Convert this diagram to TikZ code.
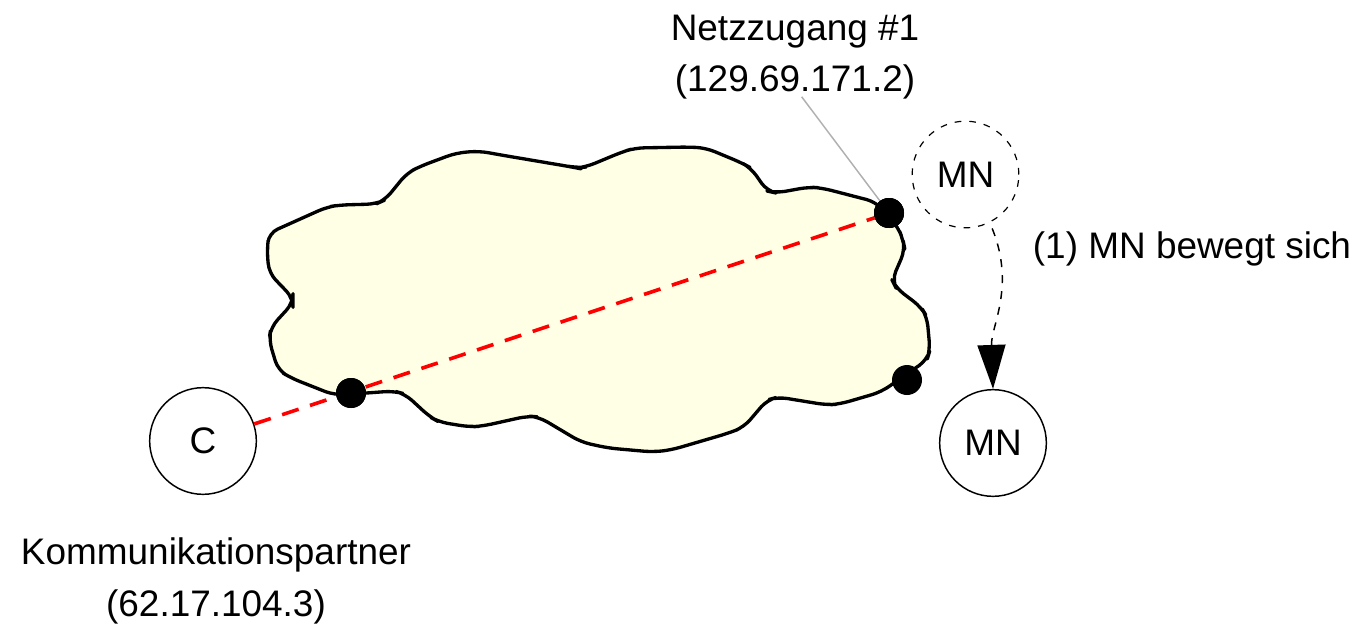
\documentclass[tikz,border=0pt]{standalone}
\usepackage{fontspec}
\setmainfont{Liberation Sans}
\usetikzlibrary{arrows.meta}
\definecolor{cloudfill}{RGB}{255,255,230}
\definecolor{leadgrey}{RGB}{176,176,176}
\begin{document}
\begin{tikzpicture}[x=0.75pt,y=-0.75pt,
  txt/.style={font=\fontsize{27.7}{38.5}\selectfont, inner sep=0pt, align=center},
  host/.style={circle, draw, line width=1.1pt, minimum size=80pt, inner sep=0pt, font=\fontsize{27.7}{33}\selectfont},
  ghost/.style={host, dashed, dash pattern=on 5pt off 6pt, line width=0.9pt},
  router/.style={circle, fill=black, minimum size=22.5pt, inner sep=0pt},
  netline/.style={line width=2.5pt, line join=round},
  route/.style={red, line width=2.7pt, dash pattern=on 13pt off 9pt},
  move/.style={line width=1.1pt, dash pattern=on 6pt off 6pt, -{Triangle[length=33pt,width=21pt]}},
  lead/.style={leadgrey, line width=1.1pt}]
\useasboundingbox (0,0) rectangle (1362,624);

% network cloud
\draw[netline, fill=cloudfill, rounded corners=7pt]
  (269,233) -- (267,250) -- (269,273) -- (293,298) -- (293,303) -- (271,327)
  -- (269,340) -- (278,370) -- (291,378) -- (334,395) -- (367,393) -- (394,391)
  -- (405,394) -- (430,417) -- (439,422) -- (470,427) -- (483,426) -- (528,416)
  -- (539,417) -- (581,442) -- (608,448) -- (653,452) -- (671,450) -- (729,433)
  -- (744,427) -- (767,400) -- (778,397) -- (827,405) -- (840,404) -- (881,392)
  -- (894,383) -- (927,360) -- (930,350) -- (927,317) -- (921,307) -- (896,288)
  -- (892,280) -- (905,250) -- (903,240) -- (898,227) -- (876,202) -- (822,188)
  -- (809,187) -- (776,193) -- (767,191) -- (751,168) -- (742,163) -- (706,148)
  -- (689,147) -- (635,148) -- (622,152) -- (586,167) -- (577,168) -- (572,167)
  -- (501,155) -- (479,151) -- (456,153) -- (421,166) -- (407,173) -- (385,200)
  -- (376,204) -- (340,205) -- (327,207) -- cycle;

% hosts
\node[host] (C) at (203,441) {C};
\node[ghost] (mnold) at (965.5,174.5) {MN};
\node[host] (mnnew) at (993,443) {MN};

% access points
\node[router] (ap1) at (889,213) {};
\node[router] (apC) at (351,393) {};
\node[router] (ap2) at (907,380) {};

% route to the correspondent
\draw[route] (C) -- (ap1);
\node[router] at (apC) {};
\node[router] at (ap1) {};

% labels
\node[txt] (net) at (795,57) {Netzzugang \#1\\(129.69.171.2)};
\node[txt] (cn) at (216,581) {Kommunikationspartner\\(62.17.104.3)};
\node[txt] (mv) at (1192,249) {(1) MN bewegt sich};

\draw[lead] (net.south) ++(5pt,2pt) -- (ap1);
\node[router] at (ap1) {};

% movement of the mobile node
\draw[move] (mnold.south) ++(20pt,0pt) coordinate (mvstart)
  (mvstart) to[out=-68,in=92] (mnnew.north);
\end{tikzpicture}
\end{document}
